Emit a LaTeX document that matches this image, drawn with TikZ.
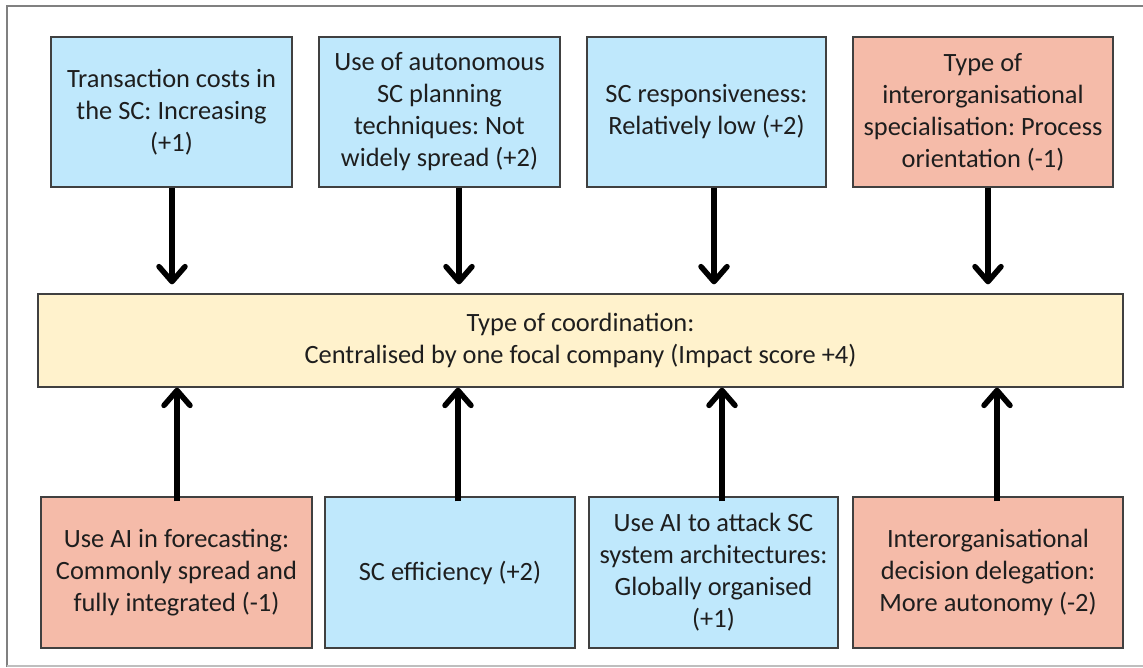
\documentclass[tikz,border=0pt]{standalone}
\usepackage{fontspec}
\setmainfont{Carlito}
\frenchspacing
\usetikzlibrary{arrows.meta}
\definecolor{boxblue}{RGB}{191,232,252}
\definecolor{boxred}{RGB}{245,187,169}
\definecolor{boxyellow}{RGB}{255,242,204}
\definecolor{boxedge}{RGB}{64,64,64}
\definecolor{textgray}{RGB}{30,30,30}
\definecolor{framegray}{RGB}{128,128,128}
\definecolor{framelight}{RGB}{190,190,190}
\begin{document}
\begin{tikzpicture}[x=1pt,y=-1pt,
  factor/.style={draw=boxedge, line width=1.3pt, align=center, inner sep=0pt,
    text=textgray, font=\fontsize{26.4}{32}\selectfont},
  posbox/.style={factor, fill=boxblue},
  negbox/.style={factor, fill=boxred},
  centrebox/.style={factor, fill=boxyellow},
  link/.style={line width=5.5pt, -{Straight Barb[length=15pt,width=26pt,round]}}
]
\useasboundingbox (0,0) rectangle (1143,667);

% outer frame
\draw[framegray, line width=2pt] (1143,5.5) -- (6.5,5.5) -- (6.5,667);
\draw[framelight, line width=1.2pt] (6.5,666) -- (1143,666);

% central box
\node[centrebox, minimum width=1085pt, minimum height=93pt] (c) at (580.5,340.5)
  {Type of coordination:\\Centralised by one focal company (Impact score +4)};

% upper factors
\node[posbox, minimum width=241pt, minimum height=150pt] (t1) at (171.5,112)
  {Transaction costs in\\the SC: Increasing\\(+1)};
\node[posbox, minimum width=241pt, minimum height=150pt] (t2) at (439.5,112)
  {Use of autonomous\\SC planning\\techniques: Not\\widely spread (+2)};
\node[posbox, minimum width=239pt, minimum height=150pt] (t3) at (706.5,112)
  {SC responsiveness:\\Relatively low (+2)};
\node[negbox, minimum width=260pt, minimum height=150pt] (t4) at (983,112)
  {Type of\\interorganisational\\specialisation: Process\\orientation (-1)};

% lower factors
\node[negbox, minimum width=271pt, minimum height=151pt] (b1) at (176.5,572.5)
  {Use AI in forecasting:\\Commonly spread and\\fully integrated (-1)};
\node[posbox, minimum width=250pt, minimum height=151pt] (b2) at (450,572.5)
  {SC efficiency (+2)};
\node[posbox, minimum width=249pt, minimum height=151pt] (b3) at (713.5,572.5)
  {Use AI to attack SC\\system architectures:\\Globally organised\\(+1)};
\node[negbox, minimum width=270pt, minimum height=151pt] (b4) at (988,572.5)
  {Interorganisational\\decision delegation:\\More autonomy (-2)};

% influences from above
\draw[link, shorten >=9pt] ([xshift=0.5pt]t1.south) -- ([xshift=0.5pt]t1.south |- c.north);
\draw[link, shorten >=9pt] ([xshift=19.5pt]t2.south) -- ([xshift=19.5pt]t2.south |- c.north);
\draw[link, shorten >=9pt] ([xshift=7.5pt]t3.south) -- ([xshift=7.5pt]t3.south |- c.north);
\draw[link, shorten >=9pt] ([xshift=5pt]t4.south) -- ([xshift=5pt]t4.south |- c.north);

% influences from below
\draw[link] ([xshift=0.5pt,yshift=-5pt]b1.north) -- ([xshift=0.5pt]b1.north |- c.south);
\draw[link] ([xshift=8pt,yshift=-5pt]b2.north) -- ([xshift=8pt]b2.north |- c.south);
\draw[link] ([xshift=8.5pt,yshift=-5pt]b3.north) -- ([xshift=8.5pt]b3.north |- c.south);
\draw[link] ([xshift=9pt,yshift=-5pt]b4.north) -- ([xshift=9pt]b4.north |- c.south);
\end{tikzpicture}
\end{document}
